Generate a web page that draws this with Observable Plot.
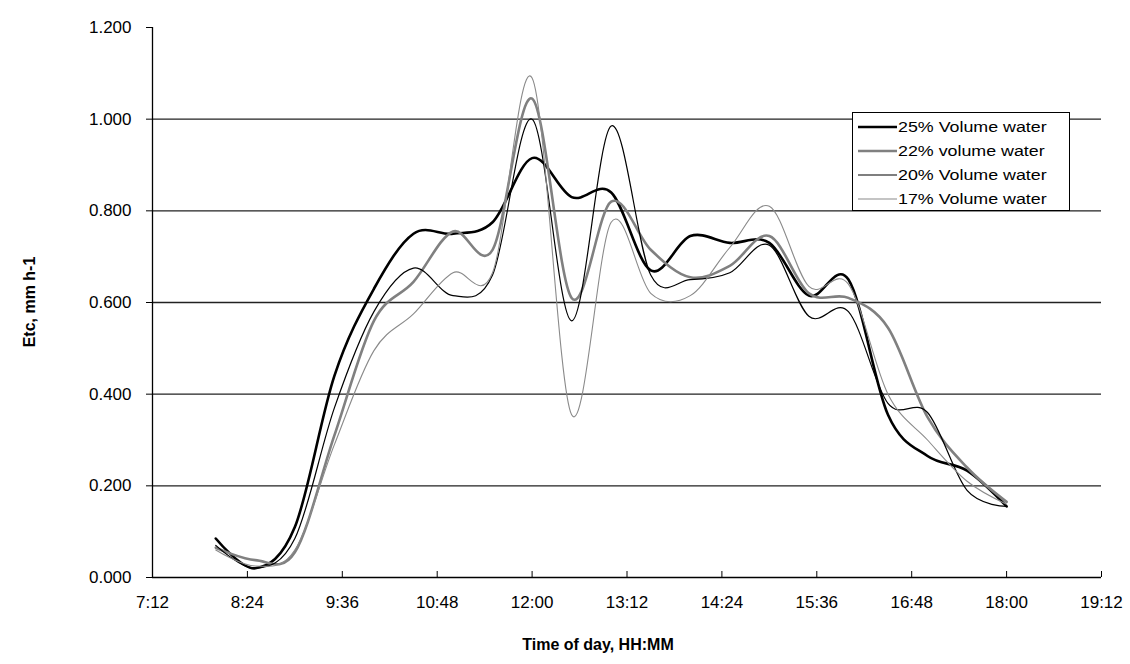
<!DOCTYPE html>
<html>
<head>
<meta charset="utf-8">
<script src="https://cdn.jsdelivr.net/npm/d3@7"></script>
<script src="https://cdn.jsdelivr.net/npm/@observablehq/plot@0.6"></script>
<style>
  html, body { margin: 0; padding: 0; background: #fff; }
  body { font-family: "Liberation Sans", Arial, sans-serif; }
  #wrap { position: relative; width: 1130px; height: 664px; overflow: hidden; }
  #chart svg { display: block; }
  .xtitle { position: absolute; left: 598px; top: 636px; transform: translateX(-50%); font-weight: bold; font-size: 16px; white-space: nowrap; color: #000; }
  .ytitle { position: absolute; left: 30px; top: 302px; transform: translate(-50%, -50%) rotate(-90deg); font-weight: bold; font-size: 16px; white-space: nowrap; color: #000; }
  #legend { position: absolute; left: 852px; top: 112px; width: 218px; height: 99px; border: 1px solid #000; background: #fff; box-sizing: border-box; }
  .row { position: absolute; left: 4px; height: 20px; display: flex; align-items: center; }
  .row svg { display: block; }
  .row span { font-size: 15.5px; white-space: nowrap; display: inline-block; transform: scaleX(1.15); transform-origin: left center; margin-left: 1px; color: #000; }
</style>
</head>
<body>
<div id="wrap">
  <div id="chart"></div>
  <div class="xtitle">Time of day, HH:MM</div>
  <div class="ytitle">Etc, mm h-1</div>
  <div id="legend"></div>
</div>
<script>
// ---- data ----
const times = ["8:00","8:30","9:00","9:30","10:00","10:30","11:00","11:30","12:00","12:30","13:00",
               "13:30","14:00","14:30","15:00","15:30","16:00","16:30","17:00","17:30","18:00"];
const seriesNames = ["25% Volume water","22% volume water","20% Volume water","17% Volume water"];
const vol25 = [0.085,0.020,0.110,0.440,0.630,0.750,0.750,0.775,0.915,0.830,0.840,0.670,0.745,0.730,0.730,0.615,0.650,0.355,0.265,0.233,0.155];
const vol22 = [0.065,0.038,0.055,0.310,0.560,0.645,0.755,0.715,1.045,0.610,0.820,0.715,0.655,0.680,0.745,0.620,0.610,0.545,0.350,0.240,0.165];
const vol20 = [0.070,0.020,0.085,0.370,0.580,0.675,0.615,0.660,1.000,0.560,0.985,0.660,0.650,0.665,0.725,0.570,0.580,0.380,0.360,0.190,0.155];
const vol17 = [0.060,0.025,0.060,0.290,0.495,0.575,0.665,0.665,1.090,0.355,0.775,0.620,0.615,0.720,0.810,0.635,0.640,0.400,0.300,0.210,0.160];
const xTickLabels = ["7:12","8:24","9:36","10:48","12:00","13:12","14:24","15:36","16:48","18:00","19:12"];
const yTicks = [0, 0.2, 0.4, 0.6, 0.8, 1.0, 1.2];
const yGrid = [0.2, 0.4, 0.6, 0.8, 1.0];

// ---- styles ----
const styles = [
  {stroke: "#000000", strokeWidth: 2.6},
  {stroke: "#808080", strokeWidth: 2.6},
  {stroke: "#000000", strokeWidth: 1.2},
  {stroke: "#8a8a8a", strokeWidth: 1.1}
];

const toMin = s => { const [h, m] = s.split(":").map(Number); return h * 60 + m; };
const fmt = m => `${Math.floor(m / 60)}:${String(Math.round(m % 60)).padStart(2, "0")}`;
const xTicks = xTickLabels.map(toMin);
const allValues = [vol25, vol22, vol20, vol17];
const table = allValues.flatMap((vals, k) => times.map((t, i) => ({t: toMin(t), v: vals[i], s: seriesNames[k]})));

const lineMarks = seriesNames.map((name, k) =>
  Plot.line(table.filter(d => d.s === name), {x: "t", y: "v", curve: "cardinal", ...styles[k]})
);

const chart = Plot.plot({
  width: 1130,
  height: 664,
  marginLeft: 152,
  marginRight: 29,
  marginTop: 27,
  marginBottom: 87,
  style: {fontFamily: "'Liberation Sans', Arial, sans-serif", fontSize: "17px", color: "#000", background: "#fff"},
  x: {type: "linear", domain: [xTicks[0], xTicks[xTicks.length - 1]]},
  y: {domain: [yTicks[0], yTicks[yTicks.length - 1]]},
  marks: [
    Plot.ruleY(yGrid, {stroke: "#222", strokeWidth: 1.4}),
    Plot.ruleY([yTicks[0]], {stroke: "#000", strokeWidth: 1.3}),
    Plot.ruleX([xTicks[0]], {stroke: "#000", strokeWidth: 1.3}),
    Plot.axisX({ticks: xTicks, tickFormat: fmt, tickSize: -6, tickPadding: 24, label: null, fontSize: 17, stroke: "#000"}),
    Plot.axisY({ticks: yTicks, tickFormat: d => d.toFixed(3), tickSize: 6, tickPadding: 15, label: null, fontSize: 17}),
    ...lineMarks
  ]
});
document.getElementById("chart").appendChild(chart);

// ---- legend ----
const legend = document.getElementById("legend");
seriesNames.forEach((name, k) => {
  const row = document.createElement("div");
  row.className = "row";
  row.style.top = (4 + k * 24) + "px";
  const sw = d3.create("svg").attr("width", 40).attr("height", 20);
  sw.append("line").attr("x1", 1).attr("x2", 40).attr("y1", 10).attr("y2", 10)
    .attr("stroke", styles[k].stroke).attr("stroke-width", styles[k].strokeWidth);
  row.appendChild(sw.node());
  const sp = document.createElement("span");
  sp.textContent = name;
  row.appendChild(sp);
  legend.appendChild(row);
});
</script>
</body>
</html>
